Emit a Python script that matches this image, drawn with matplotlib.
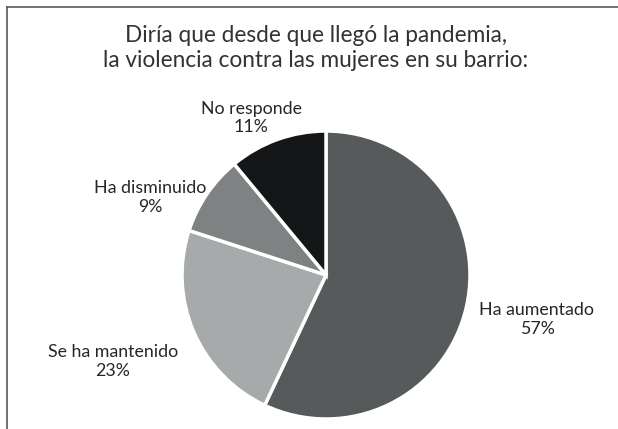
import matplotlib.pyplot as plt
from matplotlib.lines import Line2D

# data
categories = ['Ha aumentado', 'Se ha mantenido', 'Ha disminuido', 'No responde']
values = [57, 23, 9, 11]
colors = ['#575a5b', '#a7aaab', '#7f8283', '#141618']

# label centres in pie-radius units (Excel style placement)
label_pos = [(1.465, -0.31), (-1.48, -0.60), (-1.22, 0.54), (-0.52, 1.09)]

plt.rcParams['font.family'] = ['Lato', 'DejaVu Sans']

fig = plt.figure(figsize=(6.18, 4.29), dpi=100)
W, H = 618, 429
cx, cy, r = 326, 275, 144
ax = fig.add_axes([(cx - r) / W, (H - cy - r) / H, 2 * r / W, 2 * r / H])

wedges, texts = ax.pie(values, colors=colors, startangle=90, counterclock=False,
                       labels=[f'{c}\n{v}%' for c, v in zip(categories, values)],
                       wedgeprops=dict(edgecolor='white', linewidth=2.5),
                       textprops=dict(fontsize=12.8, color='#262626',
                                      ha='center', va='center', linespacing=1.2))
for t, p in zip(texts, label_pos):
    t.set_position(p)
    t.set_ha('center')
    t.set_va('center')

ax.set_xlim(-1, 1)
ax.set_ylim(-1, 1)
ax.set_aspect('equal')
ax.axis('off')

fig.text(316 / W, 1 - 48 / H,
         'Diría que desde que llegó la pandemia,\nla violencia contra las mujeres en su barrio:',
         ha='center', va='center', fontsize=16.3, color='#333333', linespacing=1.25)

# frame (only top and left edges fall inside the picture)
fig.add_artist(Line2D([6.5 / W, 6.5 / W], [0, 1 - 6.5 / H], transform=fig.transFigure,
                      color='#595959', lw=1.2))
fig.add_artist(Line2D([6.5 / W, 1], [1 - 6.5 / H, 1 - 6.5 / H], transform=fig.transFigure,
                      color='#595959', lw=1.2))

plt.savefig('out.png', dpi=100)
